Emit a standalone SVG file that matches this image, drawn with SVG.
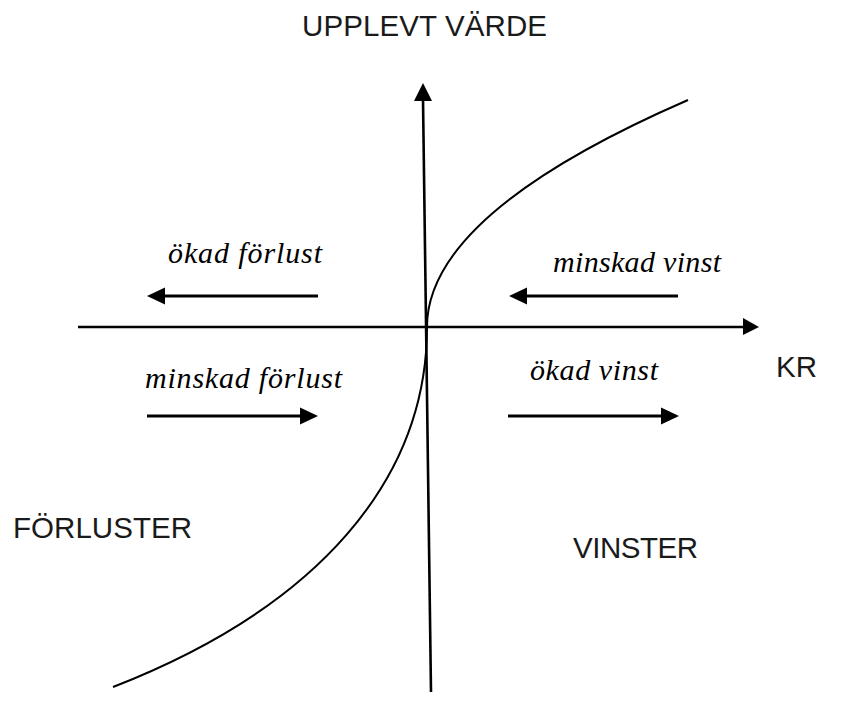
<svg xmlns="http://www.w3.org/2000/svg" width="847" height="708" viewBox="0 0 847 708">
<style>
.ax{stroke:#000;stroke-width:2.6;fill:none}
.ar{stroke:#000;stroke-width:3;fill:none}
.hd{fill:#000}
.cv{stroke:#000;stroke-width:2;fill:none}
.sans{font-family:"Liberation Sans",Arial,sans-serif;font-size:29.5px;fill:#1a1a1a}
.it{font-family:"Liberation Serif","Times New Roman",serif;font-style:italic;font-size:30px;fill:#000}
</style>
<rect width="847" height="708" fill="#fff"/>
<g id="connectors">
  <line class="ax" x1="78" y1="327" x2="745" y2="327"/>
  <polygon class="hd" points="759,327 743,318 743,335"/>
  <line class="ax" x1="423" y1="99" x2="431" y2="692"/>
  <polygon class="hd" points="423,83 414,101 432,101"/>
  <path class="cv" d="M427,327 Q427,213.5 688,100"/>
  <path class="cv" d="M427,327 C427,480 318,607 113,687"/>
  <line class="ar" x1="318" y1="296" x2="162" y2="296"/>
  <polygon class="hd" points="147,296 165,287.5 165,304.5"/>
  <line class="ar" x1="678" y1="296" x2="524" y2="296"/>
  <polygon class="hd" points="509,296 527,287.5 527,304.5"/>
  <line class="ar" x1="147" y1="416" x2="303" y2="416"/>
  <polygon class="hd" points="318,416 300,407.5 300,424.5"/>
  <line class="ar" x1="508" y1="416" x2="664" y2="416"/>
  <polygon class="hd" points="679,416 661,407.5 661,424.5"/>
</g>
<g id="upplevt-varde"><text class="sans" x="302" y="36" textLength="245">UPPLEVT VÄRDE</text></g>
<g id="kr"><text class="sans" x="776" y="377">KR</text></g>
<g id="forluster"><text class="sans" x="13" y="538" textLength="179">FÖRLUSTER</text></g>
<g id="vinster"><text class="sans" x="573" y="558" textLength="125">VINSTER</text></g>
<g id="okad-forlust"><text class="it" x="168" y="263" textLength="154">ökad förlust</text></g>
<g id="minskad-vinst"><text class="it" x="553" y="272" textLength="168">minskad vinst</text></g>
<g id="minskad-forlust"><text class="it" x="145" y="388" textLength="197">minskad förlust</text></g>
<g id="okad-vinst"><text class="it" x="530" y="380" textLength="128">ökad vinst</text></g>
</svg>
